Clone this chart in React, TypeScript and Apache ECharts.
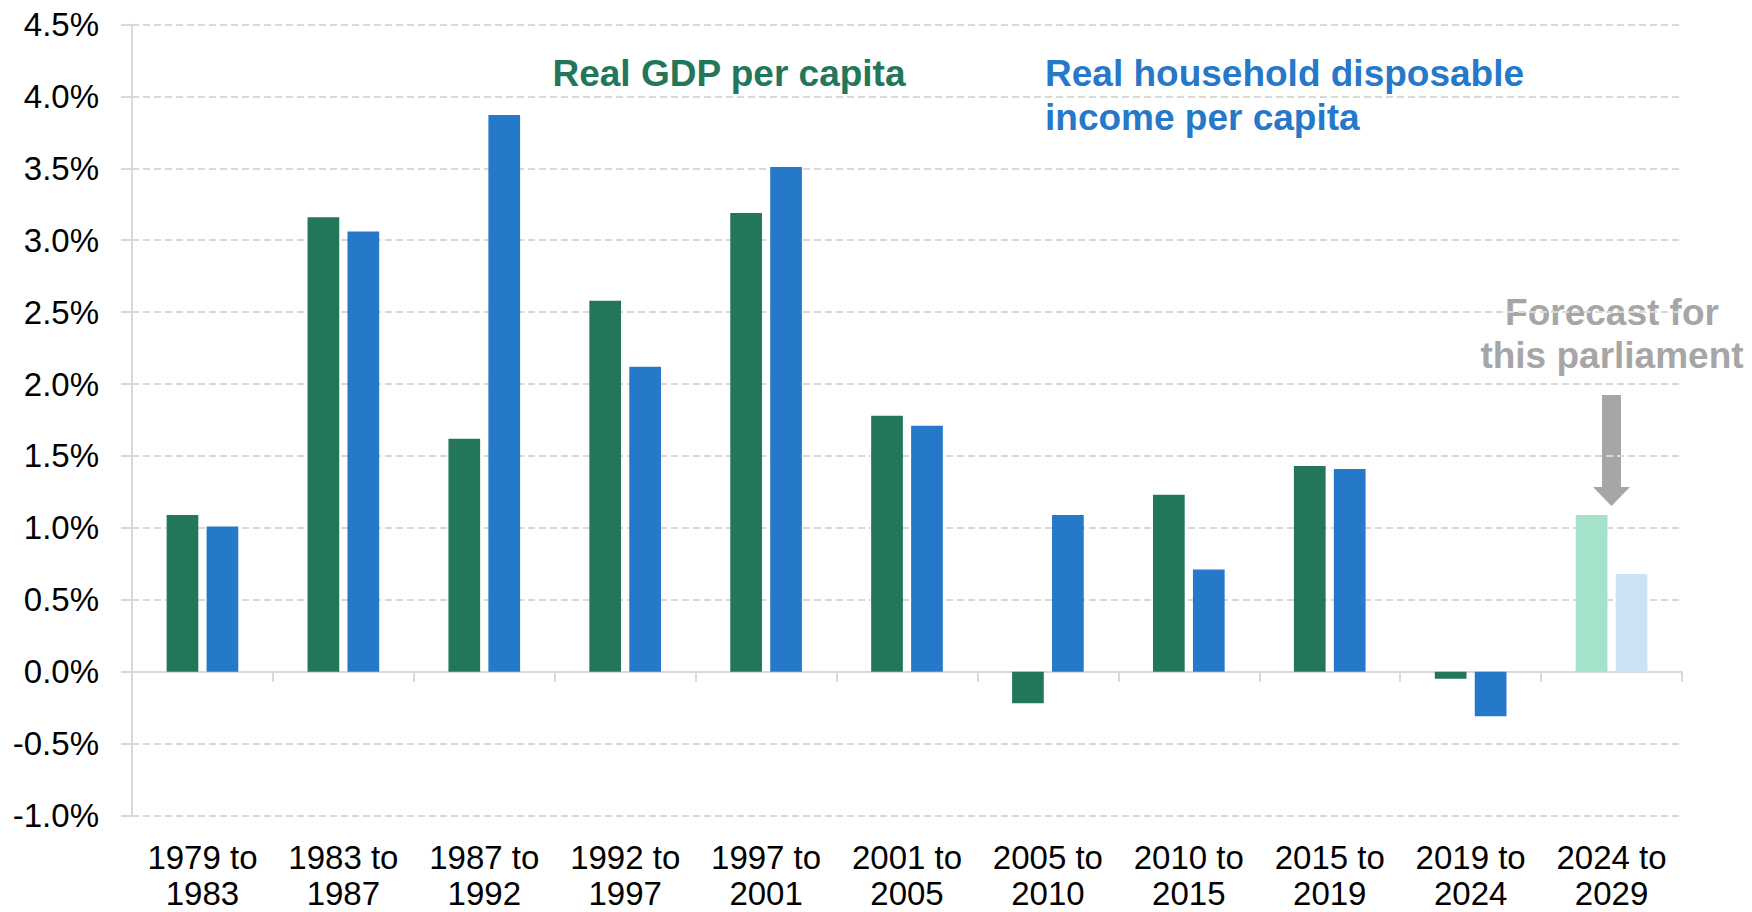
import React, { useEffect, useRef } from "react";
import * as echarts from "echarts";

const categories = [
  "1979 to\n1983",
  "1983 to\n1987",
  "1987 to\n1992",
  "1992 to\n1997",
  "1997 to\n2001",
  "2001 to\n2005",
  "2005 to\n2010",
  "2010 to\n2015",
  "2015 to\n2019",
  "2019 to\n2024",
  "2024 to\n2029",
];
const gdpPerCapita = [1.09, 3.16, 1.62, 2.58, 3.19, 1.78, -0.22, 1.23, 1.43, -0.05, 1.09];
const rhdiPerCapita = [1.01, 3.06, 3.87, 2.12, 3.51, 1.71, 1.09, 0.71, 1.41, -0.31, 0.68];
const forecastIndex = 10;
const yMin = -1;
const yMax = 4.5;
const yInterval = 0.5;

const GREEN = "#22775A";
const BLUE = "#2678C8";
const LIGHT_GREEN = "#A4E3CA";
const LIGHT_BLUE = "#CEE2F6";
const GRAY = "#A6A6A6";
const AXIS = "#D9D9D9";
const FONT = "Liberation Sans, Arial, sans-serif";

export default function App() {
  const ref = useRef<HTMLDivElement>(null);
  useEffect(() => {
    if (!ref.current) return;
    const chart = echarts.init(ref.current, undefined, { renderer: "svg" });
    const gdpData = gdpPerCapita.map((v, i) =>
      i === forecastIndex ? { value: v, itemStyle: { color: LIGHT_GREEN } } : v
    );
    const rhdiData = rhdiPerCapita.map((v, i) =>
      i === forecastIndex ? { value: v, itemStyle: { color: LIGHT_BLUE } } : v
    );
    chart.setOption({
      animation: false,
      backgroundColor: "#ffffff",
      grid: {
        left: 132,
        right: 70,
        top: 24.5,
        bottom: 96.5,
        containLabel: false,
        outerBoundsMode: "none",
      },
      xAxis: [
        {
          type: "category",
          data: categories,
          position: "bottom",
          axisLine: { show: true, onZero: true, lineStyle: { color: AXIS, width: 2 } },
          axisTick: { show: true, length: 10, lineStyle: { color: AXIS, width: 2 } },
          axisLabel: { show: false },
          splitLine: { show: false },
        },
        {
          type: "category",
          data: categories,
          position: "bottom",
          axisLine: { show: false, onZero: false },
          axisTick: { show: false },
          axisLabel: {
            show: true,
            interval: 0,
            color: "#000",
            fontSize: 33,
            lineHeight: 36,
            margin: 24,
            fontFamily: FONT,
          },
          splitLine: { show: false },
        },
      ],
      yAxis: {
        type: "value",
        min: yMin,
        max: yMax,
        interval: yInterval,
        axisLine: { show: true, lineStyle: { color: AXIS, width: 2 } },
        axisTick: { show: true, length: 11, lineStyle: { color: AXIS, width: 2 } },
        axisLabel: {
          color: "#000",
          fontSize: 33,
          margin: 33,
          fontFamily: FONT,
          formatter: (v: number) => v.toFixed(1) + "%",
        },
        splitLine: { show: true, lineStyle: { color: AXIS, width: 2, type: [7, 4] } },
      },
      series: [
        {
          name: "Real GDP per capita",
          type: "bar",
          xAxisIndex: 0,
          data: gdpData,
          itemStyle: { color: GREEN },
          barWidth: "22.5%",
          barGap: "26%",
        },
        {
          name: "Real household disposable income per capita",
          type: "bar",
          xAxisIndex: 0,
          data: rhdiData,
          itemStyle: { color: BLUE },
          barWidth: "22.5%",
          barGap: "26%",
        },
      ],
      graphic: [
        {
          type: "text",
          x: 729,
          y: 73,
          style: {
            text: "Real GDP per capita",
            fill: GREEN,
            fontSize: 37,
            fontWeight: "bold",
            fontFamily: FONT,
            align: "center",
            verticalAlign: "middle",
          },
        },
        {
          type: "text",
          x: 1045,
          y: 95,
          style: {
            text: "Real household disposable\nincome per capita",
            fill: BLUE,
            fontSize: 37,
            fontWeight: "bold",
            fontFamily: FONT,
            lineHeight: 44,
            align: "left",
            verticalAlign: "middle",
          },
        },
        {
          type: "text",
          x: 1612,
          y: 334,
          style: {
            text: "Forecast for\nthis parliament",
            fill: GRAY,
            fontSize: 37,
            fontWeight: "bold",
            fontFamily: FONT,
            lineHeight: 43,
            align: "center",
            verticalAlign: "middle",
          },
        },
        {
          type: "polygon",
          shape: {
            points: [
              [1602, 395],
              [1621, 395],
              [1621, 487],
              [1630, 487],
              [1611.5, 506],
              [1593, 487],
              [1602, 487],
            ],
          },
          style: { fill: GRAY },
        },
      ],
    });
    return () => chart.dispose();
  }, []);
  return (
    <div
      ref={ref}
      style={{ position: "absolute", left: 0, top: 0, width: 1752, height: 912, background: "#fff" }}
    />
  );
}
